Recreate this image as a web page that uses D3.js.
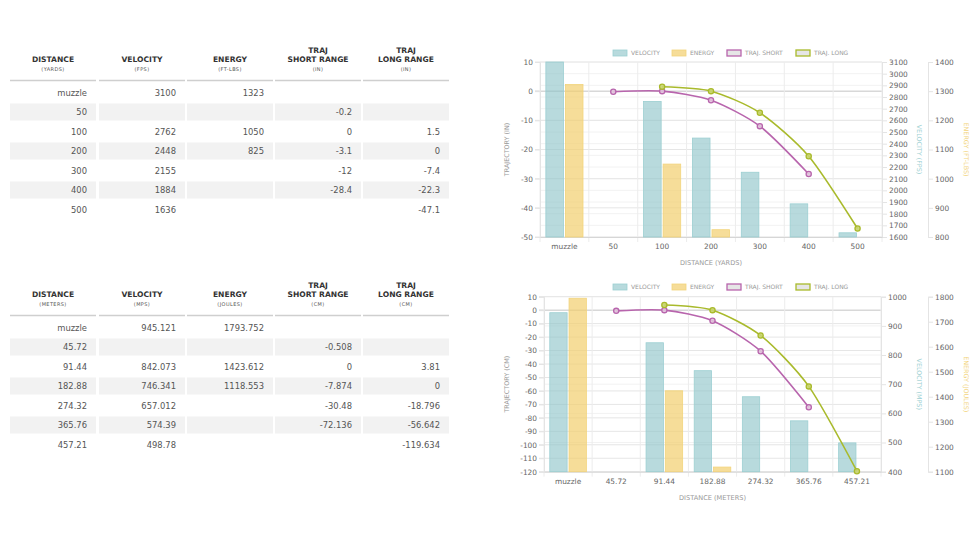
<!DOCTYPE html>
<html>
<head>
<meta charset="utf-8">
<script src="https://cdn.jsdelivr.net/npm/d3@7"></script>
<style>
  body { margin: 0; background: #fff; }
  svg text { font-family: "DejaVu Sans", sans-serif; }
</style>
</head>
<body>
<div id="app"></div>
<script>
// ---- data ----
var yardsDist = ["muzzle", "50", "100", "200", "300", "400", "500"];
var fpsVel = [3100, null, 2762, 2448, 2155, 1884, 1636];
var ftlbsEnergy = [1323, null, 1050, 825, null, null, null];
var inShort = [null, -0.2, 0, -3.1, -12, -28.4, null];
var inLong = [null, null, 1.5, 0, -7.4, -22.3, -47.1];

var metersDist = ["muzzle", "45.72", "91.44", "182.88", "274.32", "365.76", "457.21"];
var mpsVel = [945.121, null, 842.073, 746.341, 657.012, 574.39, 498.78];
var joulesEnergy = [1793.752, null, 1423.612, 1118.553, null, null, null];
var cmShort = [null, -0.508, 0, -7.874, -30.48, -72.136, null];
var cmLong = [null, null, 3.81, 0, -18.796, -56.642, -119.634];

var legendNames = ["VELOCITY", "ENERGY", "TRAJ. SHORT", "TRAJ. LONG"];

var svg = d3.select("#app").append("svg")
    .attr("width", 978)
    .attr("height", 550);

var velColor = "#9ccfd2", velFill = "rgba(140,196,200,0.62)";
var enColor = "#f2d47c", enFill = "rgba(242,206,110,0.7)";
var shortColor = "#b865ad", longColor = "#a9ba2c";

// ---- tables ----
function drawTable(top, heads, cols) {
    var colX = [10, 99, 187, 275, 363], colW = 86;
    var g = svg.append("g").attr("transform", "translate(0," + top + ")");

    heads.forEach(function(h, c) {
        var cx = colX[c] + colW / 2;
        h.main.forEach(function(t, k) {
            g.append("text").attr("x", cx).attr("y", 6 + k * 9.2)
                .attr("text-anchor", "middle")
                .style("font-size", "7.6px").style("font-weight", "bold")
                .attr("fill", "#333").text(t);
        });
        g.append("text").attr("x", cx).attr("y", 24)
            .attr("text-anchor", "middle")
            .style("font-size", "5px").attr("fill", "#555")
            .attr("letter-spacing", "0.4").text(h.sub);
        g.append("line").attr("x1", colX[c]).attr("x2", colX[c] + colW)
            .attr("y1", 33.5).attr("y2", 33.5)
            .attr("stroke", "#cfcfcf").attr("stroke-width", 1.5);
    });

    var nRows = cols[0].length;
    for (var i = 0; i < nRows; i++) {
        var cy = 45.5 + i * 19.5;
        cols.forEach(function(col, c) {
            if (i % 2 == 1) {
                g.append("rect").attr("x", colX[c]).attr("y", cy - 8.5)
                    .attr("width", colW).attr("height", 17).attr("fill", "#f2f2f2");
            }
            var v = col[i];
            if (v !== null) {
                g.append("text").attr("x", colX[c] + colW - 9).attr("y", cy + 3)
                    .attr("text-anchor", "end")
                    .style("font-size", "8.4px").attr("fill", "#555")
                    .text(String(v));
            }
        });
    }
}

function twoLine(h) { if (h.main.length == 1) h.main = ["", h.main[0]]; return h; }

drawTable(47, [
    {main: ["DISTANCE"], sub: "(YARDS)"},
    {main: ["VELOCITY"], sub: "(FPS)"},
    {main: ["ENERGY"], sub: "(FT-LBS)"},
    {main: ["TRAJ", "SHORT RANGE"], sub: "(IN)"},
    {main: ["TRAJ", "LONG RANGE"], sub: "(IN)"}
].map(twoLine), [yardsDist, fpsVel, ftlbsEnergy, inShort, inLong]);

drawTable(282, [
    {main: ["DISTANCE"], sub: "(METERS)"},
    {main: ["VELOCITY"], sub: "(MPS)"},
    {main: ["ENERGY"], sub: "(JOULES)"},
    {main: ["TRAJ", "SHORT RANGE"], sub: "(CM)"},
    {main: ["TRAJ", "LONG RANGE"], sub: "(CM)"}
].map(twoLine), [metersDist, mpsVel, joulesEnergy, cmShort, cmLong]);

// ---- charts ----
function plain(d) { return String(d); }

function drawChart(o) {
    var g = svg.append("g");
    var x = d3.scaleBand().domain(o.cats).range([o.left, o.right]);
    var y = d3.scaleLinear().domain(o.trajDom).range([o.bottom, o.top]);
    var yV = d3.scaleLinear().domain(o.velDom).range([o.bottom, o.top]);
    var yE = d3.scaleLinear().domain(o.enDom).range([o.bottom, o.top]);
    var tickStyle = function(sel) {
        sel.select(".domain").attr("stroke", "#e4e4e4");
        sel.selectAll(".tick line").attr("stroke", "#e4e4e4");
        sel.selectAll("text").attr("fill", "#666").style("font-size", "7.4px")
            .style("font-family", "DejaVu Sans, sans-serif");
    };

    // gridlines of velocity axis (faint)
    g.append("g").selectAll("line").data(d3.range(o.velDom[0], o.velDom[1] + 1, 100))
        .enter().append("line")
        .attr("x1", o.left).attr("x2", o.right)
        .attr("y1", function(d) { return yV(d); }).attr("y2", function(d) { return yV(d); })
        .attr("stroke", "#f2f2f2");
    // gridlines of trajectory axis
    g.append("g").selectAll("line").data(d3.range(o.trajDom[0], o.trajDom[1] + 1, 10))
        .enter().append("line")
        .attr("x1", o.left - 5).attr("x2", o.right)
        .attr("y1", function(d) { return y(d); }).attr("y2", function(d) { return y(d); })
        .attr("stroke", function(d) { return d == 0 ? "#c4c4c4" : "#e6e6e6"; });
    // vertical gridlines
    g.append("g").selectAll("line").data(d3.range(o.cats.length + 1))
        .enter().append("line")
        .attr("x1", function(d) { return o.left + d * x.bandwidth(); })
        .attr("x2", function(d) { return o.left + d * x.bandwidth(); })
        .attr("y1", o.top).attr("y2", o.bottom + 5)
        .attr("stroke", "#ececec");

    // axes
    var ax = g.append("g").attr("transform", "translate(" + o.left + ",0)")
        .call(d3.axisLeft(y).tickValues(d3.range(o.trajDom[0], o.trajDom[1] + 1, 10))
            .tickFormat(plain).tickSize(5).tickPadding(2));
    tickStyle(ax);
    var av = g.append("g").attr("transform", "translate(" + o.right + ",0)")
        .call(d3.axisRight(yV).tickValues(d3.range(o.velDom[0], o.velDom[1] + 1, 100))
            .tickFormat(plain).tickSize(5).tickPadding(2));
    tickStyle(av);
    var ae = g.append("g").attr("transform", "translate(" + o.enX + ",0)")
        .call(d3.axisRight(yE).tickValues(d3.range(o.enDom[0], o.enDom[1] + 1, 100))
            .tickFormat(plain).tickSize(5).tickPadding(2));
    tickStyle(ae);
    var axb = g.append("g").attr("transform", "translate(0," + o.bottom + ")")
        .call(d3.axisBottom(x).tickSize(0).tickPadding(7));
    tickStyle(axb);
    axb.select(".domain").attr("stroke", "#d6d6d6");

    // bars
    var inner = d3.scaleBand().domain([0, 1]).range([0, x.bandwidth() * 0.8]).paddingInner(0.1).paddingOuter(0.05);
    var off = x.bandwidth() * 0.1;
    o.cats.forEach(function(c, i) {
        if (o.vel[i] !== null) {
            g.append("rect")
                .attr("x", x(c) + off + inner(0)).attr("width", inner.bandwidth())
                .attr("y", yV(o.vel[i])).attr("height", o.bottom - yV(o.vel[i]))
                .attr("fill", velFill).attr("stroke", velColor).attr("stroke-width", 0.8);
        }
        if (o.en[i] !== null) {
            g.append("rect")
                .attr("x", x(c) + off + inner(1)).attr("width", inner.bandwidth())
                .attr("y", yE(o.en[i])).attr("height", o.bottom - yE(o.en[i]))
                .attr("fill", enFill).attr("stroke", enColor).attr("stroke-width", 0.8);
        }
    });

    // lines
    [[o.short, shortColor, "rgba(225,196,220,0.9)"], [o.long, longColor, "rgba(200,212,110,0.9)"]].forEach(function(s) {
        var pts = [];
        s[0].forEach(function(v, i) {
            if (v !== null) pts.push([x(o.cats[i]) + x.bandwidth() / 2, y(v)]);
        });
        g.append("path").datum(pts)
            .attr("d", d3.line().curve(d3.curveCardinal.tension(0.25)))
            .attr("fill", "none").attr("stroke", s[1]).attr("stroke-width", 1.6);
        g.append("g").selectAll("circle").data(pts).enter().append("circle")
            .attr("cx", function(d) { return d[0]; }).attr("cy", function(d) { return d[1]; })
            .attr("r", 2.6).attr("fill", s[2]).attr("stroke", s[1]).attr("stroke-width", 1.3);
    });

    // legend
    var lx = [613, 672, 727, 796];
    var lStroke = [velColor, enColor, shortColor, longColor];
    var lFill = [velFill, enFill, "#e6e6e6", "#e6e6e6"];
    legendNames.forEach(function(n, i) {
        g.append("rect").attr("x", lx[i]).attr("y", o.legendY - 3).attr("width", 14).attr("height", 6)
            .attr("fill", lFill[i]).attr("stroke", lStroke[i]).attr("stroke-width", i > 1 ? 1.3 : 0.8);
        g.append("text").attr("x", lx[i] + 18).attr("y", o.legendY + 2.2)
            .style("font-size", "6px").attr("fill", "#999").text(n);
    });

    // axis titles
    var midY = (o.top + o.bottom) / 2;
    g.append("text").attr("transform", "translate(509," + midY + ") rotate(-90)")
        .attr("text-anchor", "middle").style("font-size", "6.4px").attr("fill", "#999")
        .text(o.trajTitle);
    g.append("text").attr("transform", "translate(917," + midY + ") rotate(90)")
        .attr("text-anchor", "middle").style("font-size", "6.4px").attr("fill", velColor)
        .text(o.velTitle);
    g.append("text").attr("transform", "translate(964," + midY + ") rotate(90)")
        .attr("text-anchor", "middle").style("font-size", "6.4px").attr("fill", enColor)
        .text(o.enTitle);
    g.append("text").attr("x", (o.left + o.right) / 2).attr("y", o.bottom + 28)
        .attr("text-anchor", "middle").style("font-size", "6.6px").attr("fill", "#999")
        .text(o.xTitle);
}

drawChart({
    cats: yardsDist, vel: fpsVel, en: ftlbsEnergy, short: inShort, long: inLong,
    trajDom: [-50, 10], velDom: [1600, 3100], enDom: [800, 1400],
    left: 540, right: 882, top: 62, bottom: 237, enX: 928, legendY: 53,
    trajTitle: "TRAJECTORY (IN)", velTitle: "VELOCITY (FPS)", enTitle: "ENERGY (FT-LBS)",
    xTitle: "DISTANCE (YARDS)"
});

drawChart({
    cats: metersDist, vel: mpsVel, en: joulesEnergy, short: cmShort, long: cmLong,
    trajDom: [-120, 10], velDom: [400, 1000], enDom: [1100, 1800],
    left: 544, right: 881, top: 296.7, bottom: 471.7, enX: 928, legendY: 287,
    trajTitle: "TRAJECTORY (CM)", velTitle: "VELOCITY (MPS)", enTitle: "ENERGY (JOULES)",
    xTitle: "DISTANCE (METERS)"
});
</script>
</body>
</html>
